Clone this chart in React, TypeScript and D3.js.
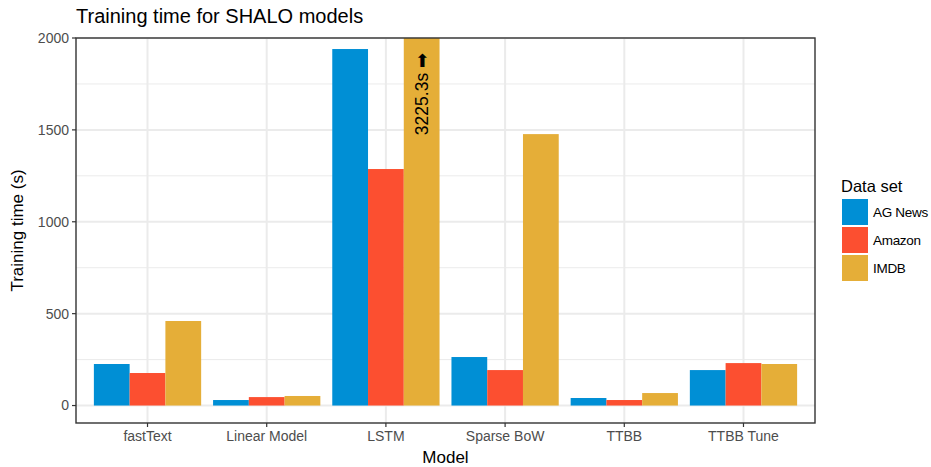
import React from 'react';
import * as d3 from 'd3';

const models = ['fastText', 'Linear Model', 'LSTM', 'Sparse BoW', 'TTBB', 'TTBB Tune'];
const datasets = ['AG News', 'Amazon', 'IMDB'];
const agNews = [226, 30, 1940, 264, 41, 193];
const amazon = [177, 46, 1287, 193, 30, 231];
const imdb = [460, 52, 3225.3, 1477, 68, 226];
const colors = ['#008FD5', '#FC4F30', '#E5AE38'];
const yTicks = [0, 500, 1000, 1500, 2000];
const yMinor = [250, 750, 1250, 1750];

const W = 931;
const H = 467;
const FONT = '"Liberation Sans", Arial, Helvetica, sans-serif';

const App = () => {
  const left = 76;
  const right = 815;
  const top = 38;
  const bottom = 423;

  const series = [agNews, amazon, imdb];

  // discrete axis with 0.6 units of expansion on each side
  const x = d3
    .scalePoint<string>()
    .domain(models)
    .range([left, right])
    .padding(0.6);
  const step = x.step();
  const sub = d3.scaleBand<string>().domain(datasets).range([-step * 0.45, step * 0.45]);

  const y = d3.scaleLinear().domain([-95, 2000]).range([bottom, top]);

  return (
    <svg width={W} height={H} style={{ position: 'absolute', left: 0, top: 0 }} fontFamily={FONT}>
      <rect width={W} height={H} fill="#fff" />
      <defs>
        <clipPath id="panel">
          <rect x={left} y={top} width={right - left} height={bottom - top} />
        </clipPath>
      </defs>
      {/* grid */}
      {yMinor.map(t => (
        <line key={'mn' + t} x1={left} x2={right} y1={y(t)} y2={y(t)} stroke="#EBEBEB" strokeWidth={1} />
      ))}
      {yTicks.map(t => (
        <line key={'mj' + t} x1={left} x2={right} y1={y(t)} y2={y(t)} stroke="#EBEBEB" strokeWidth={2} />
      ))}
      {models.map(m => (
        <line key={'vx' + m} x1={x(m)} x2={x(m)} y1={top} y2={bottom} stroke="#EBEBEB" strokeWidth={2} />
      ))}
      {/* bars */}
      <g clipPath="url(#panel)">
        {models.map((m, i) =>
          datasets.map((d, j) => {
            const v = series[j][i];
            const x0 = (x(m) as number) + (sub(d) as number);
            return (
              <rect
                key={m + d}
                x={x0}
                width={sub.bandwidth()}
                y={y(v)}
                height={y(0) - y(v)}
                fill={colors[j]}
              />
            );
          })
        )}
      </g>
      {/* label for the bar that runs off the top */}
      {models.map((m, i) =>
        series[2][i] > 2000 ? (
          <text
            key={'lab' + m}
            transform={`translate(${(x(m) as number) + (sub('IMDB') as number) + sub.bandwidth() / 2 + 6},${top + 15}) rotate(-90)`}
            textAnchor="end"
            fontSize={17.5}
            fill="#000"
          >
            {`${series[2][i].toFixed(1)}s ➡`}
          </text>
        ) : null
      )}
      {/* panel border */}
      <rect x={left} y={top} width={right - left} height={bottom - top} fill="none" stroke="#333" strokeWidth={1.4} />
      {/* y axis */}
      {yTicks.map(t => (
        <g key={'yt' + t}>
          <line x1={left - 4} x2={left} y1={y(t)} y2={y(t)} stroke="#333" strokeWidth={1.2} />
          <text x={left - 7} y={y(t)} dy="0.35em" textAnchor="end" fontSize={14} fill="#4D4D4D">
            {t}
          </text>
        </g>
      ))}
      {/* x axis */}
      {models.map(m => (
        <g key={'xt' + m}>
          <line x1={x(m)} x2={x(m)} y1={bottom} y2={bottom + 4} stroke="#333" strokeWidth={1.2} />
          <text x={x(m)} y={bottom + 18} textAnchor="middle" fontSize={14} fill="#4D4D4D">
            {m}
          </text>
        </g>
      ))}
      {/* titles */}
      <text x={left} y={23} fontSize={20} fill="#000">
        Training time for SHALO models
      </text>
      <text x={(left + right) / 2} y={463} textAnchor="middle" fontSize={17} fill="#000">
        Model
      </text>
      <text transform={`translate(23,${(top + bottom) / 2}) rotate(-90)`} textAnchor="middle" fontSize={17} fill="#000">
        Training time (s)
      </text>
      {/* legend */}
      <text x={841} y={192} fontSize={16.5} fill="#000">
        Data set
      </text>
      {datasets.map((d, j) => (
        <g key={'lg' + d} transform={`translate(842,${199 + j * 28})`}>
          <rect width={26} height={26} fill={colors[j]} />
          <text x={31} y={13} dy="0.35em" fontSize={13.5} letterSpacing={-0.3} fill="#000">
            {d}
          </text>
        </g>
      ))}
    </svg>
  );
};

export default App;
